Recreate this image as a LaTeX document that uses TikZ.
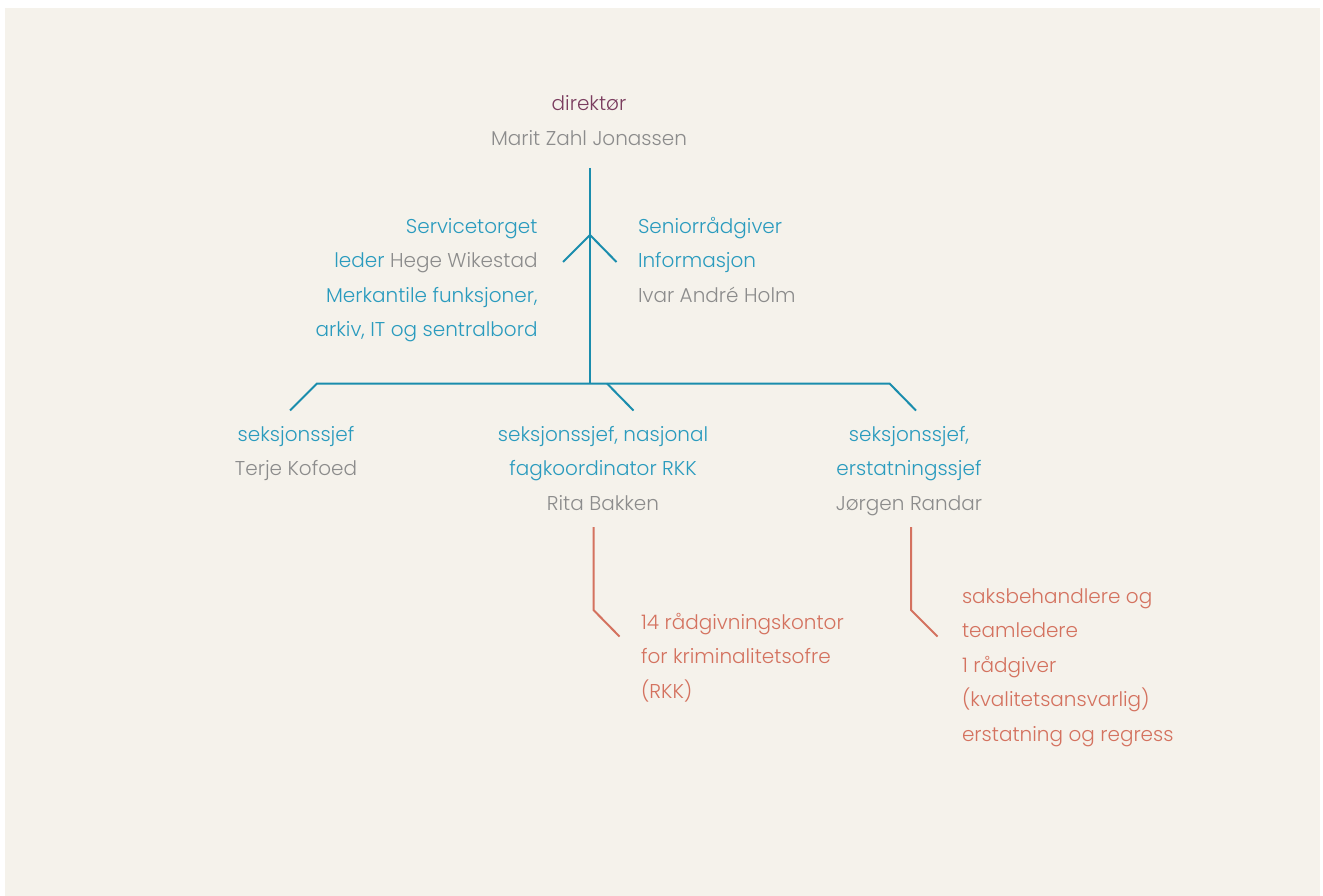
\documentclass[tikz,border=0pt]{standalone}
\usepackage{fontspec}
\setmainfont{Poppins}[UprightFont={* Light}]
\definecolor{bgc}{HTML}{F5F2EB}
\definecolor{tealline}{HTML}{1A8DAD}
\definecolor{tealtext}{HTML}{2A9BBE}
\definecolor{graytext}{HTML}{8C8C8C}
\definecolor{purptext}{HTML}{7B3D5F}
\definecolor{redc}{HTML}{D4725F}
\begin{document}
\begin{tikzpicture}[x=1pt,y=-1pt,
  txt/.style={inner sep=0pt, outer sep=0pt, font={\fontsize{20}{34.5}\selectfont}},
  tl/.style={draw=tealline, line width=2pt},
  rl/.style={draw=redc, line width=2pt}]
\useasboundingbox (0,0) rectangle (1323,896);
\fill[white] (0,0) rectangle (1323,896);
\fill[bgc] (5,8) rectangle (1320,896);

\node[txt, anchor=north, align=center] (dir) at (589,86.85)
  {\strut\textcolor{purptext}{direktør}\\\strut\textcolor{graytext}{Marit Zahl Jonassen}};
\node[txt, anchor=north east, align=right, text=tealtext] (serv) at (537.5,209.2)
  {\strut Servicetorget\\\strut leder \textcolor{graytext}{Hege Wikestad}\\\strut Merkantile funksjoner,\\\strut arkiv, IT og sentralbord};
\node[txt, anchor=north west, align=left, text=tealtext] (senior) at (638,209.2)
  {\strut Seniorrådgiver\\\strut Informasjon\\\strut\textcolor{graytext}{Ivar André Holm}};
\node[txt, anchor=north, align=center, text=tealtext] (sec1) at (296,416.9)
  {\strut seksjonssjef\\\strut\textcolor{graytext}{Terje Kofoed}};
\node[txt, anchor=north, align=center, text=tealtext] (sec2) at (603,416.9)
  {\strut seksjonssjef, nasjonal\\\strut fagkoordinator RKK\\\strut\textcolor{graytext}{Rita Bakken}};
\node[txt, anchor=north, align=center, text=tealtext] (sec3) at (909,416.9)
  {\strut seksjonssjef,\\\strut erstatningssjef\\\strut\textcolor{graytext}{Jørgen Randar}};
\node[txt, anchor=north west, align=left, text=redc] (rkk) at (641,605.2)
  {\strut 14 rådgivningskontor\\\strut for kriminalitetsofre\\\strut (RKK)};
\node[txt, anchor=north west, align=left, text=redc] (saks) at (962,579.2)
  {\strut saksbehandlere og\\\strut teamledere\\\strut 1 rådgiver\\\strut (kvalitetsansvarlig)\\\strut erstatning og regress};

% connector points
\coordinate (top) at (590,168);
\coordinate (hub) at (590,235);
\coordinate (hubL) at (563,262);
\coordinate (hubR) at (616.5,262);
\coordinate (bar) at (590,383.5);
\coordinate (barL) at (317,383.5);
\coordinate (barM) at (607,383.5);
\coordinate (barR) at (889.5,383.5);
\coordinate (s1) at (290,410.5);
\coordinate (s2) at (633.5,410.5);
\coordinate (s3) at (916,410.5);
\coordinate (r1a) at (593.5,527);
\coordinate (r1b) at (593.5,610);
\coordinate (r1c) at (619.5,636.5);
\coordinate (r2a) at (911,527);
\coordinate (r2b) at (911,610);
\coordinate (r2c) at (937.5,636.5);

\draw[tl] (top) -- (bar);
\draw[tl, line join=miter] (hubL) -- (hub) -- (hubR);
\draw[tl, line join=miter] (s1) -- (barL) -- (barR) -- (s3);
\draw[tl] (barM) -- (s2);
\draw[rl, line join=miter] (r1a) -- (r1b) -- (r1c);
\draw[rl, line join=miter] (r2a) -- (r2b) -- (r2c);
\end{tikzpicture}
\end{document}
